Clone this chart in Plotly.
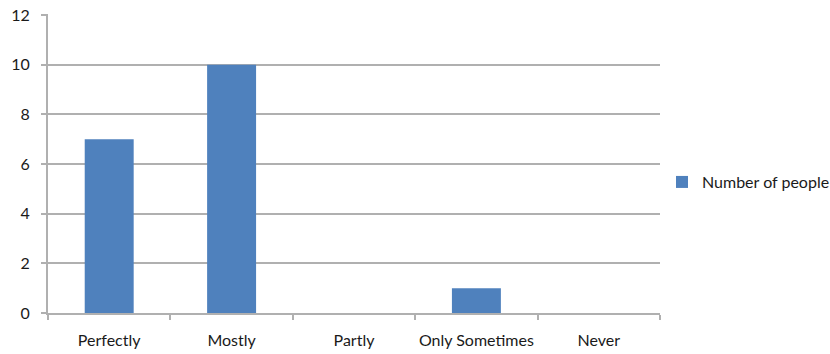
import plotly.graph_objects as go

categories = ["Perfectly", "Mostly", "Partly", "Only Sometimes", "Never"]
values = [7, 10, 0, 1, 0]
series_name = "Number of people"
y_ticks = [0, 2, 4, 6, 8, 10, 12]

fig = go.Figure()
fig.add_trace(go.Bar(
    x=categories, y=values, name=series_name,
    marker=dict(color="#4F81BD", line=dict(width=0)),
    width=0.4, showlegend=True,
))

font = dict(family="Lato, Open Sans, Liberation Sans, sans-serif", size=16, color="#1a1a1a")
fig.update_layout(
    width=830, height=354,
    margin=dict(l=48, r=170, t=14, b=41, autoexpand=False),
    paper_bgcolor="white", plot_bgcolor="white",
    font=font,
    showlegend=True,
    legend=dict(xref="container", x=662 / 830, y=0.438, xanchor="left", yanchor="middle",
                itemwidth=30,
                font=dict(size=16, color="#1a1a1a"), bgcolor="rgba(0,0,0,0)"),
    bargap=0.6,
)
fig.update_xaxes(
    type="category", showline=True, linecolor="#B0B0B0", linewidth=2,
    ticks="outside", tickson="boundaries", ticklen=5, tickcolor="#B0B0B0", tickwidth=2,
    showgrid=False, ticklabelstandoff=12, automargin=False, tickangle=0,
)
fig.update_yaxes(
    range=[0, 12.04], tickvals=y_ticks, showline=True, linecolor="#B0B0B0", linewidth=2,
    ticks="outside", ticklen=5, tickcolor="#B0B0B0", tickwidth=2,
    showgrid=True, gridcolor="#B0B0B0", gridwidth=1.5, zeroline=False,
    ticklabelstandoff=8, automargin=False,
)
fig.write_html("out.html")
